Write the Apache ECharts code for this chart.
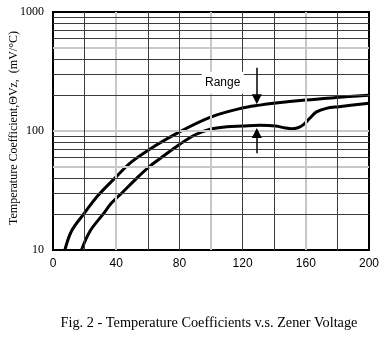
<!DOCTYPE html>
<html>
<head>
<meta charset="utf-8">
<script src="https://cdn.jsdelivr.net/npm/echarts@6/dist/echarts.min.js"></script>
<style>
  html, body { margin: 0; padding: 0; background: #fff; }
  #chart { width: 388px; height: 339px; }
</style>
</head>
<body>
<div id="chart"></div>
<script>
// Zener voltage (V) and temperature coefficient (mV/°C) for the two bounding curves
const upperVz = [7.5, 11.8, 19, 28.6, 39.8, 49.7, 64.4, 79.8, 99.8, 119.8, 130.8, 139.6, 159.8, 179.4, 200];
const upperTc = [10, 14.5, 19.7, 28.8, 41, 55, 74.7, 98, 131, 156, 165, 171, 182, 191, 200];

const lowerVz = [18, 23.4, 31.7, 37, 43.4, 52.9, 60.8, 68, 80, 90, 100, 110, 120, 131, 141, 147, 151, 155, 158.5, 162.5, 166.5, 173, 181, 200];
const lowerTc = [10, 14.4, 20, 24.8, 30, 40, 50, 59, 77, 93, 104, 108.5, 110, 111.5, 110, 106, 104.5, 106.5, 113, 128, 144, 155, 160, 171];

// Axis settings
const xMin = 0, xMax = 200, xStep = 40;
const yMin = 10, yMax = 1000;

// Grid lines: vertical every 20 V, horizontal at 2..9 of each decade
const vLinesDark = [20, 60, 80, 120, 140, 180];
const vLinesLight = [40, 100, 160];
const hLinesDark = [20, 30, 40, 60, 70, 80, 90, 200, 300, 400, 600, 700, 800, 900];
const hLinesLight = [50, 100, 500];

// "Range" annotation
const rangeLabel = 'Range';
const rangeLabelAt = [107.4, 254];
const arrowVz = 129;
const downArrow = [340, 185];
const upArrow = [65, 96];

const yTitle = 'Temperature Coefficient,\u0398Vz,  (mV/\u00B0C)';
const caption = 'Fig. 2 - Temperature Coefficients v.s. Zener Voltage';

const zip = (xs, ys) => xs.map((x, i) => [x, ys[i]]);

const darkGrid = { color: '#3c3c3c', width: 1, type: 'solid' };
const lightGrid = { color: '#c8c8c8', width: 2, type: 'solid' };

const gridLines = []
  .concat(vLinesLight.map(v => ({ xAxis: v, lineStyle: lightGrid })))
  .concat(hLinesLight.map(v => ({ yAxis: v, lineStyle: lightGrid })))
  .concat(vLinesDark.map(v => ({ xAxis: v, lineStyle: darkGrid })))
  .concat(hLinesDark.map(v => ({ yAxis: v, lineStyle: darkGrid })));

const chart = echarts.init(document.getElementById('chart'), null, { renderer: 'canvas' });

chart.setOption({
  animation: false,
  backgroundColor: '#fff',
  grid: {
    left: 53, right: 19, top: 12, bottom: 89,
    show: true, borderColor: '#000', borderWidth: 2, backgroundColor: '#fff'
  },
  xAxis: {
    type: 'value', min: xMin, max: xMax, interval: xStep,
    axisLine: { show: true, lineStyle: { color: '#000', width: 2 } },
    axisTick: { show: false },
    splitLine: { show: false },
    axisLabel: { color: '#000', fontFamily: 'Liberation Sans', fontSize: 12, margin: 8 }
  },
  yAxis: {
    type: 'log', logBase: 10, min: yMin, max: yMax,
    axisLine: { show: true, lineStyle: { color: '#000', width: 2 } },
    axisTick: { show: false },
    splitLine: { show: false },
    minorTick: { show: false },
    minorSplitLine: { show: false },
    axisLabel: {
      color: '#000', fontFamily: 'Liberation Serif', fontSize: 12, margin: 9,
      formatter: v => String(Math.round(v))
    }
  },
  graphic: [
    {
      type: 'text', x: 14, y: 128, rotation: Math.PI / 2,
      style: {
        text: yTitle, fill: '#000', font: '12px "Liberation Serif"',
        align: 'center', verticalAlign: 'middle'
      }
    },
    {
      type: 'text', x: 209, y: 323,
      style: {
        text: caption, fill: '#000', font: '14.3px "Liberation Serif"',
        align: 'center', verticalAlign: 'middle'
      }
    }
  ],
  series: [
    {
      name: 'grid',
      type: 'line',
      data: [],
      silent: true,
      z: 1,
      markLine: {
        silent: true, symbol: 'none', animation: false,
        label: { show: false },
        data: gridLines
      }
    },
    {
      name: 'upper',
      type: 'line',
      data: zip(upperVz, upperTc),
      smooth: 0.35,
      showSymbol: false,
      z: 3,
      lineStyle: { color: '#000', width: 3 },
      itemStyle: { color: '#000' }
    },
    {
      name: 'lower',
      type: 'line',
      data: zip(lowerVz, lowerTc),
      smooth: 0.35,
      showSymbol: false,
      z: 3,
      lineStyle: { color: '#000', width: 3 },
      itemStyle: { color: '#000' }
    },
    {
      name: 'range',
      type: 'line',
      data: [],
      silent: true,
      z: 4,
      markPoint: {
        silent: true, animation: false,
        symbol: 'rect', symbolSize: [42, 22],
        itemStyle: { color: '#fff' },
        label: {
          show: true, position: 'inside', formatter: rangeLabel,
          color: '#000', fontFamily: 'Liberation Sans', fontSize: 12
        },
        data: [{ coord: rangeLabelAt }]
      },
      markLine: {
        silent: true, animation: false,
        symbol: ['none', 'triangle'], symbolSize: 10,
        label: { show: false },
        lineStyle: { color: '#000', width: 1.5, type: 'solid' },
        itemStyle: { color: '#000' },
        data: [
          [{ coord: [arrowVz, downArrow[0]] }, { coord: [arrowVz, downArrow[1]] }],
          [{ coord: [arrowVz, upArrow[0]] }, { coord: [arrowVz, upArrow[1]] }]
        ]
      }
    }
  ]
});
</script>
</body>
</html>
